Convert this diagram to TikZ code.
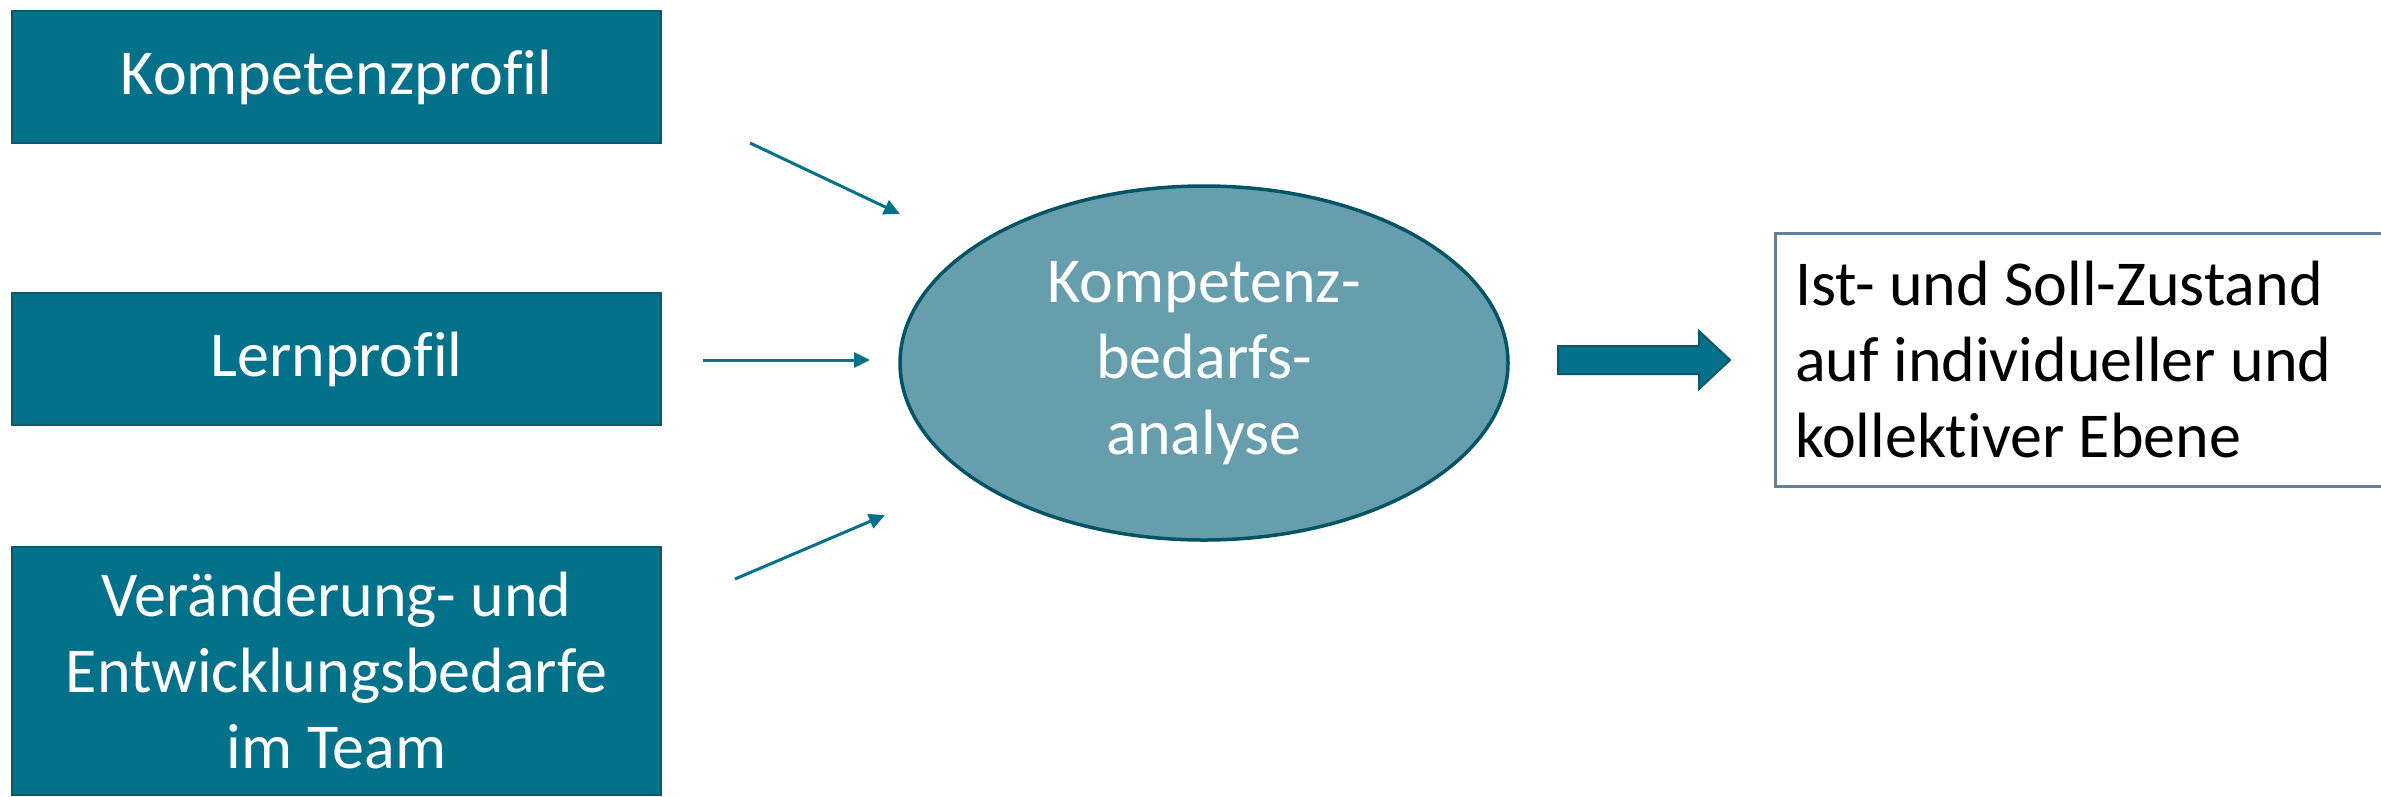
\documentclass[tikz,border=0pt]{standalone}
\usepackage{fontspec}
\setmainfont{Carlito}[RawFeature={-liga;-clig;-dlig}]
\usetikzlibrary{arrows.meta,shapes.geometric}
\definecolor{boxfill}{RGB}{2,113,137}
\definecolor{boxline}{RGB}{12,88,104}
\definecolor{ellfill}{RGB}{103,158,174}
\definecolor{ellline}{RGB}{0,84,100}
\definecolor{arrcol}{RGB}{4,113,138}
\definecolor{rboxline}{RGB}{96,128,158}
\tikzset{
  tealbox/.style={rectangle, draw=boxline, line width=2.5pt, fill=boxfill, text=white,
    minimum width=649pt, align=center, inner sep=0pt,
    font=\fontsize{64}{76}\selectfont},
  thinarrow/.style={draw=arrcol, line width=3pt, -{Triangle[length=16pt,width=15pt]}},
}
\begin{document}
\begin{tikzpicture}[x=1pt,y=-1pt]
\useasboundingbox (0,0) rectangle (2381,796);
\fill[white] (0,0) rectangle (2381,796);
\node[tealbox, minimum height=132pt] (b1) at (336.5,77) {Kompetenzprofil};
\node[tealbox, minimum height=132pt] (b2) at (336.5,359) {Lernprofil};
\node[tealbox, minimum height=248pt] (b3) at (336.5,671) {Veränderung- und\\Entwicklungsbedarfe\\im Team};
\node[ellipse, draw=ellline, line width=3.5pt, fill=ellfill, text=white,
  minimum width=608pt, minimum height=354pt, align=center, inner sep=0pt,
  font=\fontsize{64}{76}\selectfont] (e) at (1204,363) {Kompetenz-\\bedarfs-\\analyse};
\node[rectangle, draw=rboxline, line width=2.5pt, fill=white, anchor=north west,
  minimum width=620pt, minimum height=253pt, inner sep=0pt] (r) at (1774,232) {};
\node[anchor=west, align=left, text=black, inner sep=0pt,
  font=\fontsize{64}{76}\selectfont] (rt) at (1795,360) {Ist- und Soll-Zustand\\auf individueller und\\kollekt\kern0pt iver Ebene};
\coordinate (a1s) at (750,143);
\coordinate (a1e) at (900,214);
\coordinate (a2s) at (703,360);
\coordinate (a2e) at (870,360);
\coordinate (a3s) at (735,579);
\coordinate (a3e) at (885,515);
\draw[thinarrow] (a1s) -- (a1e);
\draw[thinarrow] (a2s) -- (a2e);
\draw[thinarrow] (a3s) -- (a3e);
\draw[fill=boxfill, draw=boxline, line width=2pt]
  (1558,346) -- (1699,346) -- (1699,331) -- (1730,360) -- (1699,389) -- (1699,374) -- (1558,374) -- cycle;
\end{tikzpicture}
\end{document}
